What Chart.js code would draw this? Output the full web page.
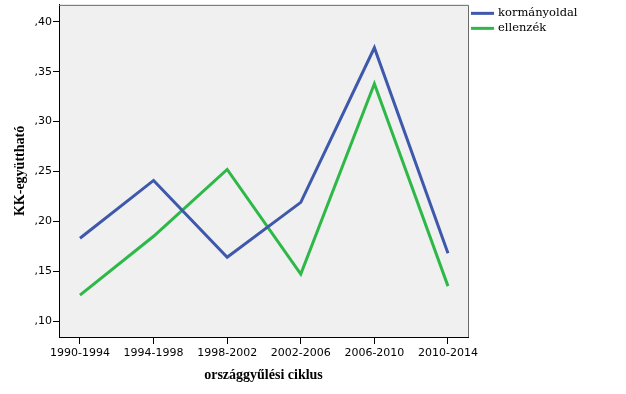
<!DOCTYPE html>
<html>
<head>
<meta charset="utf-8">
<script src="https://cdn.jsdelivr.net/npm/chart.js@4/dist/chart.umd.min.js"></script>
<style>
  html, body { margin: 0; padding: 0; background: #fff; }
  #wrap { width: 626px; height: 394px; }
</style>
</head>
<body>
<div id="wrap"><canvas id="kk-chart" width="626" height="394"></canvas></div>
<script>
// ciklusok (x tengely)
const categories = ['1990-1994', '1994-1998', '1998-2002', '2002-2006', '2006-2010', '2010-2014'];
// KK-együttható értékek
const kormanyoldal = [0.183, 0.241, 0.164, 0.219, 0.374, 0.168];
const ellenzek = [0.126, 0.185, 0.252, 0.147, 0.338, 0.135];
const seriesNames = ['kormányoldal', 'ellenzék'];
const seriesColors = ['#3E58AC', '#2EB848'];
const yTicks = [0.10, 0.15, 0.20, 0.25, 0.30, 0.35, 0.40];

function toPoints(values) {
    return values.map(function(v, i) { return { x: i, y: v }; });
}

// háttér + keret a rajzterület körül
const framePlugin = {
    id: 'frame',
    beforeDraw(chart) {
        const a = chart.chartArea;
        const ctx = chart.ctx;
        ctx.save();
        ctx.fillStyle = '#f0f0f0';
        ctx.fillRect(a.left, a.top, a.right - a.left, a.bottom - a.top);
        ctx.restore();
    },
    afterDraw(chart) {
        const a = chart.chartArea;
        const ctx = chart.ctx;
        ctx.save();
        ctx.strokeStyle = '#6a6a6a';
        ctx.lineWidth = 1;
        ctx.beginPath();
        ctx.moveTo(a.left, a.top + 0.5);
        ctx.lineTo(a.right + 0.5, a.top + 0.5);
        ctx.lineTo(a.right + 0.5, a.bottom);
        ctx.stroke();
        ctx.restore();
    }
};

// jelmagyarázat jobb felül
const legendPlugin = {
    id: 'sideLegend',
    afterDraw(chart) {
        const ctx = chart.ctx;
        const x0 = chart.chartArea.right + 3;
        ctx.save();
        ctx.font = '11.5px "DejaVu Serif"';
        ctx.textBaseline = 'middle';
        chart.data.datasets.forEach(function(ds, i) {
            const y = chart.chartArea.top + 8.5 + i * 15;
            ctx.strokeStyle = ds.borderColor;
            ctx.lineWidth = 3;
            ctx.beginPath();
            ctx.moveTo(x0, y);
            ctx.lineTo(x0 + 23, y);
            ctx.stroke();
            ctx.fillStyle = '#000';
            ctx.fillText(ds.label, x0 + 27, y);
        });
        ctx.restore();
    }
};

const ctx = document.getElementById('kk-chart').getContext('2d');
new Chart(ctx, {
    type: 'line',
    data: {
        datasets: [
            { label: seriesNames[0], data: toPoints(kormanyoldal), borderColor: seriesColors[0], borderWidth: 3, pointRadius: 0, tension: 0, fill: false },
            { label: seriesNames[1], data: toPoints(ellenzek), borderColor: seriesColors[1], borderWidth: 3, pointRadius: 0, tension: 0, fill: false }
        ]
    },
    options: {
        responsive: false,
        animation: false,
        devicePixelRatio: 1,
        layout: { padding: { top: 4, right: 158, left: 0, bottom: 0 } },
        plugins: {
            legend: { display: false },
            tooltip: { enabled: false }
        },
        scales: {
            x: {
                type: 'linear',
                min: -0.285,
                max: 5.272,
                afterBuildTicks: function(axis) {
                    axis.ticks = categories.map(function(c, i) { return { value: i }; });
                },
                afterFit: function(axis) { axis.height = 57; },
                ticks: {
                    autoSkip: false,
                    maxRotation: 0,
                    padding: 3,
                    color: '#000',
                    font: { family: '"DejaVu Sans"', size: 11 },
                    callback: function(v) { return categories[v]; }
                },
                grid: { drawOnChartArea: false, drawTicks: true, tickLength: 7, color: '#000' },
                border: { display: true, color: '#000', width: 1 },
                title: {
                    display: true,
                    text: 'országgyűlési ciklus',
                    color: '#000',
                    font: { family: '"Liberation Serif"', size: 14, weight: 'bold' },
                    padding: { top: 0, bottom: 10 }
                }
            },
            y: {
                type: 'linear',
                min: 0.084,
                max: 0.417,
                afterBuildTicks: function(axis) {
                    axis.ticks = yTicks.map(function(v) { return { value: v }; });
                },
                afterFit: function(axis) { axis.width = 59; },
                ticks: {
                    padding: 1,
                    color: '#000',
                    font: { family: '"DejaVu Sans"', size: 11, lineHeight: 0.7 },
                    callback: function(v) { return v.toFixed(2).replace('0.', ','); }
                },
                grid: { drawOnChartArea: false, drawTicks: true, tickLength: 6, color: '#000' },
                border: { display: true, color: '#000', width: 1 },
                title: {
                    display: true,
                    text: 'KK-együttható',
                    color: '#000',
                    font: { family: '"Liberation Serif"', size: 14, weight: 'bold' },
                    padding: { top: 12, bottom: 0 }
                }
            }
        }
    },
    plugins: [framePlugin, legendPlugin]
});
</script>
</body>
</html>
